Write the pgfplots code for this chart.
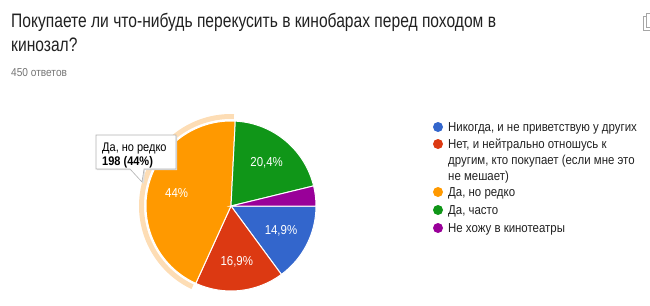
\documentclass[border=0pt]{standalone}
\usepackage{pgfplots}
\pgfplotsset{compat=1.18}
\usepackage{pgfplotstable}
\usetikzlibrary{calc}
\usepackage{fontspec}
\setmainfont{Liberation Sans}
\newfontfamily\titlefont{Liberation Sans}[FakeStretch=0.80]
\newfontfamily\narrowfont{Liberation Sans}[FakeStretch=0.88]
\definecolor{gblue}{HTML}{3366CC}
\definecolor{gred}{HTML}{DC3912}
\definecolor{gorange}{HTML}{FF9900}
\definecolor{ggreen}{HTML}{109618}
\definecolor{gpurple}{HTML}{990099}
\definecolor{halo}{HTML}{FDDDB5}
\definecolor{txtgray}{HTML}{757575}
\definecolor{titlecol}{HTML}{212121}

\pgfplotstableread{
label share count
A 14.9 67
B 16.9 76
C 44.0 198
D 20.4 92
E 3.8 17
}\piedata

\begin{document}
\begin{tikzpicture}
% cumulative angles (clockwise from 3 o'clock)
\pgfplotstablegetelem{0}{share}\of\piedata \let\sA\pgfplotsretval
\pgfplotstablegetelem{1}{share}\of\piedata \let\sB\pgfplotsretval
\pgfplotstablegetelem{2}{share}\of\piedata \let\sC\pgfplotsretval
\pgfplotstablegetelem{3}{share}\of\piedata \let\sD\pgfplotsretval
\pgfplotstablegetelem{4}{share}\of\piedata \let\sE\pgfplotsretval
\pgfmathsetmacro\aA{0}
\pgfmathsetmacro\aB{\aA-3.6*\sA}
\pgfmathsetmacro\aC{\aB-3.6*\sB}
\pgfmathsetmacro\aD{\aC-3.6*\sC}
\pgfmathsetmacro\aE{\aD-3.6*\sD}
\pgfmathsetmacro\aF{\aE-3.6*\sE}
\pgfmathsetmacro\mA{(\aA+\aB)/2}
\pgfmathsetmacro\mB{(\aB+\aC)/2}
\pgfmathsetmacro\mC{(\aC+\aD)/2}
\pgfmathsetmacro\mD{(\aD+\aE)/2}
\begin{axis}[
  width=650pt, height=305pt, scale only axis,
  xmin=0, xmax=650, ymin=0, ymax=305, y dir=reverse,
  hide axis, clip=false,
]
% title
\node[anchor=base west, font=\titlefont\fontsize{19.5}{22}\selectfont, text=titlecol, inner sep=0pt] at (axis cs:11,28) {Покупаете ли что-нибудь перекусить в кинобарах перед походом в};
\node[anchor=base west, font=\titlefont\fontsize{19.5}{22}\selectfont, text=titlecol, inner sep=0pt] at (axis cs:11,52) {кинозал?};
\node[anchor=base west, font=\narrowfont\fontsize{11.5}{13}\selectfont, text=txtgray, inner sep=0pt] at (axis cs:11,77) {450 ответов};
% copy icon (partial)
\draw[gray!70, line width=0.8pt] (axis cs:646,16) -- (axis cs:643,16) -- (axis cs:643,30) -- (axis cs:650,30);
\draw[gray!70, line width=0.8pt] (axis cs:650,13) -- (axis cs:646,13) -- (axis cs:646,27) -- (axis cs:650,27);
% halo around highlighted slice
\fill[halo] (axis cs:231,206) ++(\aD+1:92pt) arc[start angle=\aD+1, end angle=\aC-1, radius=92pt] -- ++(\aC-1:-5pt) arc[start angle=\aC-1, end angle=\aD+1, radius=87pt] -- cycle;
% slices
\filldraw[gblue, draw=white, line width=1pt] (axis cs:231,206) -- ++(\aA:85pt) arc[start angle=\aA, end angle=\aB, radius=85pt] -- cycle;
\filldraw[gred, draw=white, line width=1pt] (axis cs:231,206) -- ++(\aB:85pt) arc[start angle=\aB, end angle=\aC, radius=85pt] -- cycle;
\filldraw[gorange, draw=white, line width=1pt] (axis cs:231,206) -- ++(\aC:85pt) arc[start angle=\aC, end angle=\aD, radius=85pt] -- cycle;
\filldraw[ggreen, draw=white, line width=1pt] (axis cs:231,206) -- ++(\aD:85pt) arc[start angle=\aD, end angle=\aE, radius=85pt] -- cycle;
\filldraw[gpurple, draw=white, line width=1pt] (axis cs:231,206) -- ++(\aE:85pt) arc[start angle=\aE, end angle=\aF, radius=85pt] -- cycle;
% slice labels
\begin{scope}[every node/.style={text=white, font=\narrowfont\fontsize{13}{15}\selectfont}]
\node at ($(axis cs:231,206)+(\mA:56pt)$) {14,9\%};
\node at ($(axis cs:231,206)+(\mB:56pt)$) {16,9\%};
\node at ($(axis cs:231,206)+(\mC:56pt)$) {44\%};
\node at ($(axis cs:231,206)+(\mD:56pt)$) {20,4\%};
\end{scope}
% tooltip
\fill[black!12] (axis cs:97,136) -- (axis cs:177,136) -- (axis cs:177,170) -- (axis cs:145,170) -- (axis cs:144,184) -- (axis cs:131,170) -- (axis cs:97,170) -- cycle;
\filldraw[fill=white, draw=black!30, line width=0.6pt] (axis cs:96,135) -- (axis cs:176,135) -- (axis cs:176,169) -- (axis cs:144,169) -- (axis cs:142,182) -- (axis cs:130,169) -- (axis cs:96,169) -- cycle;
\node[anchor=base west, inner sep=0pt, font=\narrowfont\fontsize{12.5}{14}\selectfont] at (axis cs:102,151) {Да, но редко};
\node[anchor=base west, inner sep=0pt, font=\narrowfont\fontsize{12.5}{14}\selectfont\bfseries] at (axis cs:102,165) {198 (44\%)};
% legend
\fill[gblue] (axis cs:438,127) circle[radius=5pt];
\fill[gred] (axis cs:438,144) circle[radius=5pt];
\fill[gorange] (axis cs:438,192) circle[radius=5pt];
\fill[ggreen] (axis cs:438,210) circle[radius=5pt];
\fill[gpurple] (axis cs:438,228) circle[radius=5pt];
\begin{scope}[every node/.style={anchor=base west, inner sep=0pt, font=\narrowfont\fontsize{13}{15}\selectfont, text=titlecol}]
\node at (axis cs:448,131) {Никогда, и не приветствую у других};
\node at (axis cs:448,148) {Нет, и нейтрально отношусь к};
\node at (axis cs:448,164) {другим, кто покупает (если мне это};
\node at (axis cs:448,180) {не мешает)};
\node at (axis cs:448,196) {Да, но редко};
\node at (axis cs:448,214) {Да, часто};
\node at (axis cs:448,232) {Не хожу в кинотеатры};
\end{scope}
\end{axis}
\pgfresetboundingbox
\path[use as bounding box] (current axis.south west) rectangle (current axis.north east);
\end{tikzpicture}
\end{document}
